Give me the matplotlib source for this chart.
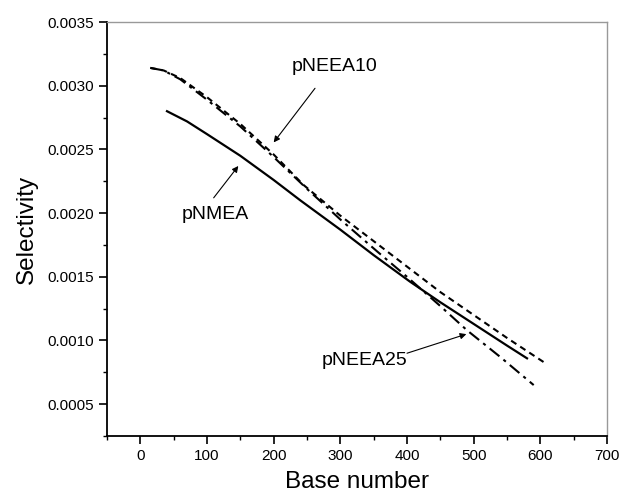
import numpy as np
import matplotlib
matplotlib.use('Agg')
import matplotlib.pyplot as plt
from matplotlib.ticker import MultipleLocator, FormatStrFormatter

plt.rcParams['font.family'] = ['Liberation Sans', 'DejaVu Sans']

# pNMEA (solid)
x_nmea = [40, 70, 100, 150, 200, 240, 300, 350, 405, 450, 500, 550, 580]
y_nmea = [0.00280, 0.00272, 0.00262, 0.00245, 0.00226, 0.00210, 0.00187,
          0.00167, 0.00146, 0.00130, 0.00113, 0.00096, 0.00086]

# pNEEA10 (dashed)
x_n10 = [15, 35, 60, 100, 150, 200, 245, 300, 350, 400, 450, 500, 550, 608]
y_n10 = [0.00314, 0.00312, 0.00306, 0.00291, 0.00270, 0.00246, 0.00222,
         0.00198, 0.00178, 0.00158, 0.00138, 0.00120, 0.00102, 0.00082]

# pNEEA25 (dash-dot)
x_n25 = [15, 35, 60, 100, 150, 200, 250, 300, 355, 400, 450, 490, 540, 590]
y_n25 = [0.00314, 0.00312, 0.00305, 0.00289, 0.00268, 0.00244, 0.00219,
         0.00195, 0.00170, 0.00150, 0.00127, 0.00108, 0.00087, 0.00065]

fig = plt.figure(figsize=(6.21, 5.01), dpi=100)
ax = fig.add_axes([0.1723, 0.1297, 0.8052, 0.8263])

ax.plot(x_nmea, y_nmea, color='black', lw=1.6)
ax.plot(x_n10, y_n10, color='black', lw=1.5, dashes=(3, 2.2))
ax.plot(x_n25, y_n25, color='black', lw=1.5, dashes=(6, 2.5, 1.5, 2.5))

ax.set_xlim(-50, 700)
ax.set_ylim(0.00025, 0.0035)
ax.xaxis.set_major_locator(MultipleLocator(100))
ax.xaxis.set_minor_locator(MultipleLocator(50))
ax.yaxis.set_major_locator(MultipleLocator(0.0005))
ax.yaxis.set_minor_locator(MultipleLocator(0.00025))
ax.yaxis.set_major_formatter(FormatStrFormatter('%.4f'))

for s in ['top', 'right']:
    ax.spines[s].set_color('#999999')
    ax.spines[s].set_linewidth(1.0)
for s in ['left', 'bottom']:
    ax.spines[s].set_color('black')
    ax.spines[s].set_linewidth(1.3)

ax.tick_params(which='major', direction='out', length=6, width=1.2,
               labelsize=11, pad=3, top=False, right=False)
ax.tick_params(which='minor', direction='out', length=3, width=1.0,
               top=False, right=False)

ax.set_xlabel('Base number', fontsize=17.5, labelpad=6)
ax.set_ylabel('Selectivity', fontsize=17.5, labelpad=7)

arrow = dict(arrowstyle='-|>', color='black', lw=0.8, mutation_scale=9,
             shrinkA=0, shrinkB=0)
ax.annotate('', xy=(200, 0.002555), xytext=(262, 0.00298), arrowprops=arrow)
ax.text(291, 0.00315, 'pNEEA10', fontsize=14, ha='center', va='center')
ax.annotate('', xy=(147, 0.00237), xytext=(110, 0.00212), arrowprops=arrow)
ax.text(112, 0.00199, 'pNMEA', fontsize=14, ha='center', va='center')
ax.annotate('', xy=(489, 0.00105), xytext=(400, 0.00090), arrowprops=arrow)
ax.text(336, 0.000844, 'pNEEA25', fontsize=14, ha='center', va='center')

fig.savefig('out.png', dpi=100)
